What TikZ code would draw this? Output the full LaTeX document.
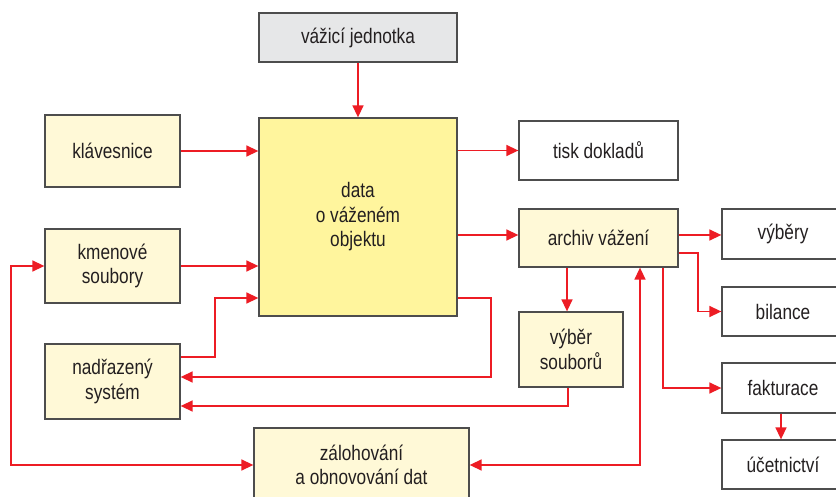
\documentclass[tikz,border=0pt]{standalone}
\usepackage{fontspec}
\setmainfont{Liberation Sans}[FakeStretch=0.82]
\usetikzlibrary{arrows.meta}
\definecolor{lred}{RGB}{237,28,36}
\definecolor{bord}{RGB}{77,77,77}
\definecolor{lyel}{RGB}{255,249,215}
\definecolor{dyel}{RGB}{255,245,157}
\definecolor{lgray}{RGB}{230,231,232}
\definecolor{txtc}{RGB}{35,31,32}
\tikzset{
  box/.style={draw=bord, line width=1.3pt, rectangle, align=center, inner sep=0pt,
    text=txtc, font=\fontsize{21}{24.5}\selectfont},
  ybox/.style={box, fill=lyel},
  wbox/.style={box, fill=white},
  arr/.style={draw=lred, line width=1.5pt, -{Triangle[length=12pt,width=11pt]}},
  darr/.style={draw=lred, line width=1.5pt, {Triangle[length=12pt,width=11pt]}-{Triangle[length=12pt,width=11pt]}}
}
\begin{document}
\begin{tikzpicture}[x=1pt,y=-1pt]
\useasboundingbox (0,0) rectangle (836,497);
\clip (0,0) rectangle (836,497);
\fill[white] (0,0) rectangle (836,497);
% nodes
\node[box, fill=lgray, minimum width=198pt, minimum height=49pt] (vj) at (358,37.5) {vážicí jednotka};
\node[box, fill=dyel, minimum width=198pt, minimum height=198pt] (data) at (358,217) {data\\o váženém\\objektu};
\node[ybox, minimum width=135pt, minimum height=72pt] (klav) at (112.5,151) {klávesnice};
\node[ybox, minimum width=135pt, minimum height=74pt] (kmen) at (112.5,266) {kmenové\\soubory};
\node[ybox, minimum width=135pt, minimum height=75pt] (nadr) at (112.5,381.5) {nadřazený\\systém};
\node[ybox, minimum width=215pt, minimum height=74pt] (zal) at (361.5,465) {zálohování\\a obnovování dat};
\node[wbox, minimum width=159pt, minimum height=59pt] (tisk) at (598.5,150.5) {tisk dokladů};
\node[ybox, minimum width=159pt, minimum height=58pt] (arch) at (598.5,238) {archiv vážení};
\node[ybox, minimum width=104pt, minimum height=75pt] (vs) at (571,349.5) {výběr\\souborů};
\node[wbox, minimum width=122pt, minimum height=50pt] (vyb) at (783,234) {výběry};
\node[wbox, minimum width=122pt, minimum height=49pt] (bil) at (783,311.5) {bilance};
\node[wbox, minimum width=122pt, minimum height=50pt] (fak) at (783,388) {fakturace};
\node[wbox, minimum width=122pt, minimum height=49pt] (uc) at (783,464.5) {účetnictví};
% helper coordinates
\coordinate (n1) at (180,357);
\coordinate (n2) at (215,298);
\coordinate (r1) at (491,298);
\coordinate (r2) at (491,377);
\coordinate (s1) at (568,406);
\coordinate (s0) at (567,0);
\coordinate (a1) at (0,235);
\coordinate (t1) at (698,253);
\coordinate (f1) at (663,388);
\coordinate (u1) at (781,0);
\coordinate (z1) at (640,465);
\coordinate (k1) at (11,465);
% connectors
\draw[arr] (vj.south) -- (data.north);
\draw[arr] (klav.east) -- (klav.east -| data.west);
\draw[arr] (kmen.east) -- (kmen.east -| data.west);
\draw[arr] (nadr.east |- n1) -| (n2) -- (n2 -| data.west);
\draw[arr] (data.east |- r1) -- (r1) -- (r2) -- (r2 -| nadr.east);
\draw[arr] (vs.south -| s1) -- (s1) -- (s1 -| nadr.east);
\draw[arr] (data.east |- tisk.west) -- (tisk.west);
\draw[arr] (data.east |- a1) -- (arch.west |- a1);
\draw[arr] (arch.south -| s0) -- (vs.north -| s0);
\draw[arr] (arch.east |- a1) -- (vyb.west |- a1);
\draw[arr] (arch.east |- t1) -- (t1) |- (bil.west);
\draw[arr] (arch.south -| f1) -- (f1) -- (fak.west |- f1);
\draw[arr] (fak.south -| u1) -- (uc.north -| u1);
\draw[darr] (zal.east) -- (z1) -- (z1 |- arch.south);
\draw[darr] (kmen.west) -- (kmen.west -| k1) -- (k1) -- (zal.west);
\end{tikzpicture}
\end{document}
